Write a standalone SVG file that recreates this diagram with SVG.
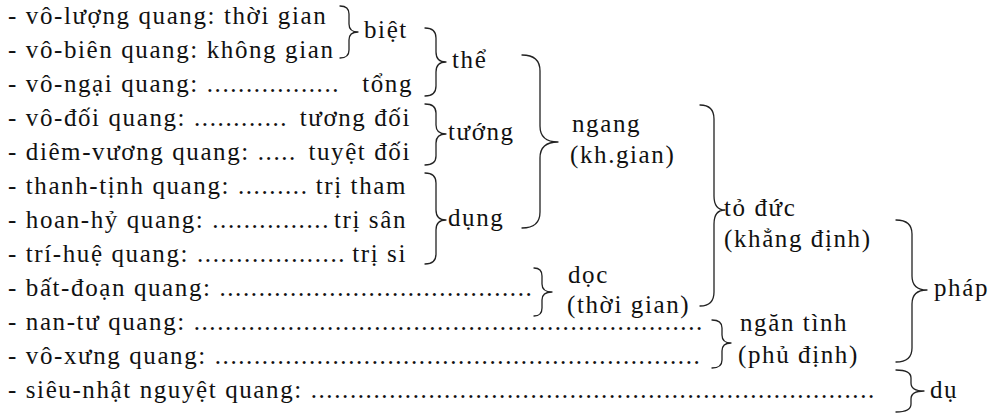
<svg xmlns="http://www.w3.org/2000/svg" width="996" height="414" viewBox="0 0 996 414">
<style>
text{font-family:"Liberation Serif","Times New Roman",serif;font-size:25px;fill:#111;letter-spacing:1.6px}
.e{text-anchor:end}
.b{fill:none;stroke:#222;stroke-width:1.3;stroke-linecap:round;stroke-linejoin:round}
</style>
<rect width="996" height="414" fill="#fff"/>
<g id="rows">
<g id="r1"><text x="8" y="24">- vô-lượng quang: thời gian</text></g>
<g id="r2"><text x="8" y="58">- vô-biên quang: không gian</text></g>
<g id="r3"><text x="8" y="92">- vô-ngại quang: .................<tspan x="413" class="e">tổng</tspan></text></g>
<g id="r4"><text x="8" y="126">- vô-đối quang: ............<tspan x="411" class="e">tương đối</tspan></text></g>
<g id="r5"><text x="8" y="160">- diêm-vương quang: .....<tspan x="411" class="e">tuyệt đối</tspan></text></g>
<g id="r6"><text x="8" y="194">- thanh-tịnh quang: .........<tspan x="407" class="e">trị tham</tspan></text></g>
<g id="r7"><text x="8" y="228">- hoan-hỷ quang: ...............<tspan x="407" class="e">trị sân</tspan></text></g>
<g id="r8"><text x="8" y="262">- trí-huệ quang: ...................<tspan x="407" class="e">trị si</tspan></text></g>
<g id="r9"><text x="8" y="296">- bất-đoạn quang: ........................................</text></g>
<g id="r10"><text x="8" y="330">- nan-tư quang: .................................................................</text></g>
<g id="r11"><text x="8" y="364">- vô-xưng quang: ..............................................................</text></g>
<g id="r12"><text x="8" y="398">- siêu-nhật nguyệt quang: ........................................................................</text></g>
</g>
<g id="labels">
<g id="biet"><text x="364" y="38">biệt</text></g>
<g id="the"><text x="452" y="68">thể</text></g>
<g id="tuong"><text x="448" y="140">tướng</text></g>
<g id="dung"><text x="448" y="226">dụng</text></g>
<g id="ngang"><text x="572" y="132">ngang</text><text x="570" y="163">(kh.gian)</text></g>
<g id="doc"><text x="568" y="283">dọc</text><text x="567" y="313">(thời gian)</text></g>
<g id="toduc"><text x="724" y="216">tỏ đức</text><text x="724" y="247">(khẳng định)</text></g>
<g id="ngantinh"><text x="740" y="331">ngăn tình</text><text x="738" y="363">(phủ định)</text></g>
<g id="phap"><text x="934" y="296">pháp</text></g>
<g id="du"><text x="930" y="398">dụ</text></g>
</g>
<g id="connectors">
<path class="b" d="M340 6 Q349 6 349 14 L349 24 Q349 32 358 32 Q349 32 349 40 L349 50 Q349 58 340 58"/>
<path class="b" d="M425 28 Q436 28 436 38 L436 52 Q436 62 446 62 Q436 62 436 72 L436 86 Q436 96 425 96"/>
<path class="b" d="M425 104 Q436 104 436 113 L436 125 Q436 134 446 134 Q436 134 436 143 L436 156 Q436 165 425 165"/>
<path class="b" d="M425 173 Q436 173 436 183 L436 210 Q436 220 446 220 Q436 220 436 230 L436 254 Q436 264 425 264"/>
<path class="b" d="M522 55 Q540 55 540 71 L540 126 Q540 142 558 142 Q540 142 540 158 L540 212 Q540 228 522 228"/>
<path class="b" d="M534 268 Q542 268 542 276 L542 284 Q542 292 552 292 Q542 292 542 300 L542 308 Q542 316 534 316"/>
<path class="b" d="M700 105 Q714 105 714 119 L714 196 Q714 210 725 210 Q714 210 714 224 L714 292 Q714 306 700 306"/>
<path class="b" d="M712 320 Q722 320 722 328 L722 335 Q722 343 731 343 Q722 343 722 351 L722 360 Q722 368 712 368"/>
<path class="b" d="M896 220 Q912 220 912 234 L912 276 Q912 290 927 290 Q912 290 912 304 L912 348 Q912 362 896 362"/>
<path class="b" d="M896 370 Q911 370 911 378 L911 383 Q911 391 924 391 Q911 391 911 399 L911 404 Q911 412 896 412"/>
</g>
</svg>
